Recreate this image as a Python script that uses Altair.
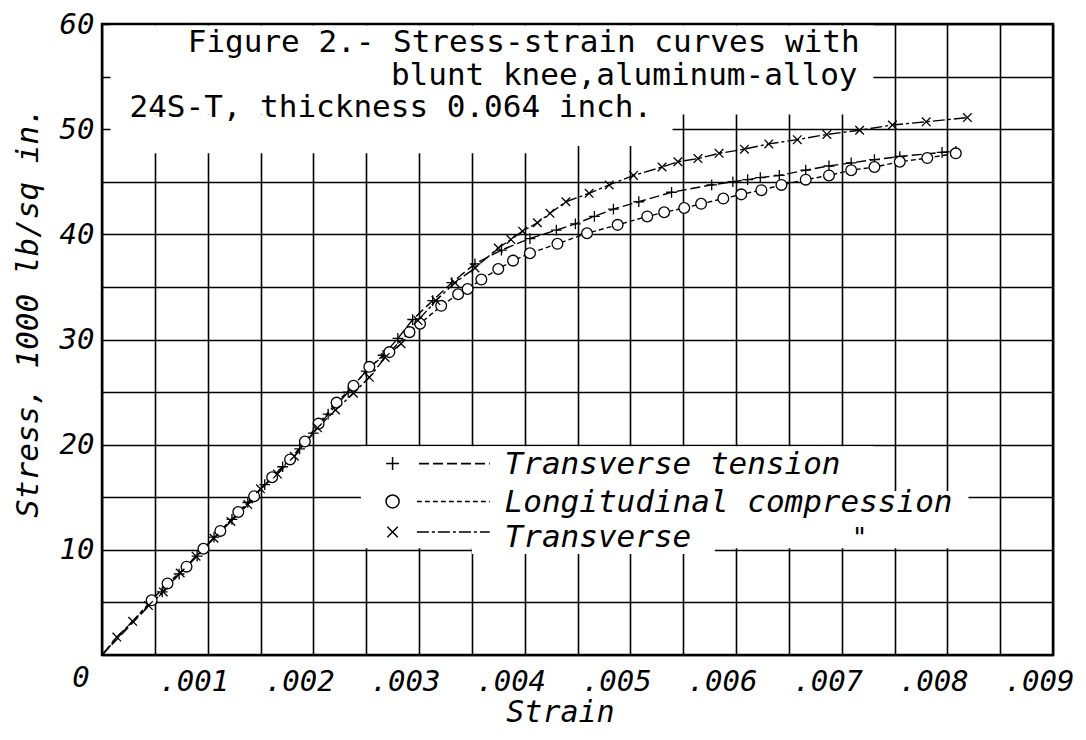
import altair as alt
import pandas as pd

# ---------------- data ----------------
SERIES = ["Transverse tension", "Longitudinal compression", "Transverse compression"]

# Transverse tension (+)
tt_strain = [0.00057, 0.00073, 0.00090, 0.00106, 0.00123, 0.00138, 0.00154, 0.00171, 0.00187, 0.00200,
             0.00214, 0.00233, 0.00250, 0.00266, 0.00280, 0.00294, 0.00313, 0.00331, 0.00353, 0.00378,
             0.00405, 0.00430, 0.00448, 0.00466, 0.00484, 0.00508, 0.00539, 0.00577, 0.00597, 0.00611,
             0.00623, 0.00641, 0.00666, 0.00688, 0.00709, 0.00731, 0.00755, 0.00795, 0.00808]
tt_stress = [6.0, 7.7, 9.4, 11.2, 12.9, 14.5, 16.2, 17.9, 19.6, 21.1,
             22.9, 25.0, 27.0, 28.5, 30.1, 31.9, 33.7, 35.4, 37.2, 38.5,
             39.6, 40.4, 41.0, 41.7, 42.4, 43.1, 44.0, 44.7, 45.0, 45.2,
             45.4, 45.6, 46.1, 46.5, 46.8, 47.1, 47.4, 47.8, 47.9]

# Longitudinal compression (o)
lc_strain = [0.00047, 0.00062, 0.00080, 0.00096, 0.00112, 0.00129, 0.00144, 0.00161, 0.00178, 0.00192,
             0.00205, 0.00222, 0.00238, 0.00253, 0.00272, 0.00291, 0.00301, 0.00321, 0.00337, 0.00346,
             0.00359, 0.00375, 0.00389, 0.00405, 0.00431, 0.00459, 0.00488, 0.00516, 0.00532, 0.00551,
             0.00567, 0.00588, 0.00605, 0.00624, 0.00643, 0.00666, 0.00688, 0.00709, 0.00731, 0.00755,
             0.00781, 0.00808]
lc_stress = [5.2, 6.8, 8.4, 10.1, 11.8, 13.6, 15.1, 16.9, 18.6, 20.3,
             22.0, 24.0, 25.6, 27.4, 28.8, 30.7, 31.5, 33.2, 34.3, 34.8,
             35.7, 36.7, 37.5, 38.2, 39.1, 40.1, 40.9, 41.7, 42.1, 42.5,
             42.9, 43.4, 43.8, 44.2, 44.7, 45.2, 45.6, 46.1, 46.4, 46.9,
             47.25, 47.7]

# Transverse compression (x)
tc_strain = [0.00014, 0.00029, 0.00044, 0.00058, 0.00074, 0.00089, 0.00106, 0.00122, 0.00138, 0.00150,
             0.00166, 0.00182, 0.00204, 0.00221, 0.00238, 0.00253, 0.00268, 0.00283, 0.00299, 0.00316,
             0.00334, 0.00353, 0.00375, 0.00387, 0.00398, 0.00412, 0.00424, 0.00439, 0.00461, 0.00480,
             0.00503, 0.00530, 0.00545, 0.00564, 0.00584, 0.00608, 0.00631, 0.00658, 0.00686, 0.00717,
             0.00748, 0.00780, 0.00819]
tc_stress = [1.7, 3.2, 4.7, 6.0, 7.8, 9.4, 11.1, 12.7, 14.3, 15.8,
             17.2, 18.9, 21.6, 23.3, 24.9, 26.4, 28.3, 29.6, 31.8, 33.7,
             35.4, 36.8, 38.7, 39.5, 40.3, 41.1, 42.0, 43.1, 43.9, 44.7,
             45.6, 46.4, 46.9, 47.2, 47.7, 48.1, 48.6, 49.0, 49.5, 49.9,
             50.4, 50.7, 51.1]

x_ticks = [round(i * 0.0005, 4) for i in range(19)]   # grid every .0005, labels every .001
y_ticks = list(range(0, 61, 5))                        # grid every 5, labels every 10

caption_lines = ["Figure 2.- Stress-strain curves with",
                 "blunt knee,aluminum-alloy",
                 "24S-T, thickness 0.064 inch."]
legend_labels = ["Transverse tension", "Longitudinal compression", "Transverse"]

# ---------------- styles / layout ----------------
FONT = "DejaVu Sans Mono"
PLUS = "M-1,0L1,0M0,-1L0,1"
CROSS = "M-0.8,-0.8L0.8,0.8M-0.8,0.8L0.8,-0.8"
shape_scale = alt.Scale(domain=SERIES, range=[PLUS, "circle", CROSS])
dash_scale = alt.Scale(domain=SERIES, range=[[10, 4], [5, 3], [12, 3, 3, 3]])

rows = []
for name, xs, ys in [(SERIES[0], tt_strain, tt_stress),
                     (SERIES[1], lc_strain, lc_stress),
                     (SERIES[2], tc_strain, tc_stress)]:
    for a, b in zip(xs, ys):
        rows.append({"series": name, "strain": a, "stress": b, "pt": 1})
    rows.append({"series": name, "strain": 0.0, "stress": 0.0, "pt": 0})
df = pd.DataFrame(rows)

xsc = alt.Scale(domain=[0, 0.009], nice=False, zero=False)
ysc = alt.Scale(domain=[0, 60], nice=False, zero=False)

x_axis = alt.Axis(
    values=x_ticks,
    labelExpr="datum.value == 0 ? '' : (round(datum.value*2000) % 2 == 0 ? replace(format(datum.value, '.3f'), '0.', '.') : '')",
    grid=True, ticks=False, domain=False,
    labelFont=FONT, labelFontSize=29, labelFontStyle="italic",
    labelColor="black", labelPadding=12, labelOffset=-14, labelFlush=False, labelOverlap=False,
    title="Strain", titleFont=FONT, titleFontSize=30, titleFontStyle="italic",
    titleFontWeight="normal", titleColor="black", titleX=458, titleY=57, titleBaseline="middle",
    titleAlign="center",
    gridColor="black", gridWidth=1.6, gridOpacity=1,
)
y_axis = alt.Axis(
    values=y_ticks,
    labelExpr="datum.value == 0 ? '' : (datum.value % 10 == 0 ? datum.label : '')",
    grid=True, ticks=False, domain=False,
    labelFont=FONT, labelFontSize=29, labelFontStyle="italic",
    labelColor="black", labelPadding=8, labelFlush=False, labelOverlap=False,
    title="Stress, 1000 lb/sq in.", titleFont=FONT, titleFontSize=31, titleFontStyle="italic",
    titleFontWeight="normal", titleColor="black", titleAngle=270, titleX=-74, titleY=288,
    titleAlign="center", titleBaseline="middle",
    gridColor="black", gridWidth=1.6, gridOpacity=1,
)

X = lambda f="strain": alt.X(f, type="quantitative", scale=xsc, axis=x_axis)
Y = lambda f="stress": alt.Y(f, type="quantitative", scale=ysc, axis=y_axis)

# white areas that interrupt the grid (caption block and legend block)
masks = pd.DataFrame({
    "x0": [0.00008, 0.00008, 0.00008, 0.00245, 0.0073, 0.0035],
    "x1": [0.0073, 0.0054, 0.0043, 0.0073, 0.0082, 0.0058],
    "y0": [51.4, 48.4, 47.7, 10.15, 10.15, 9.6],
    "y1": [59.85, 51.4, 48.4, 19.85, 15.6, 10.4],
})
mask_layer = alt.Chart(masks).mark_rect(color="white", strokeWidth=0).encode(
    x=alt.X("x0:Q", scale=xsc, axis=x_axis), x2="x1:Q",
    y=alt.Y("y0:Q", scale=ysc, axis=y_axis), y2="y1:Q")

lines = alt.Chart(df).mark_line(color="black", strokeWidth=1.4).encode(
    x=X(), y=Y(),
    strokeDash=alt.StrokeDash("series:N", scale=dash_scale, legend=None),
    detail="series:N", order="strain:Q")

points = alt.Chart(df).transform_filter("datum.pt == 1").mark_point(
    filled=True, fill="white", stroke="black", strokeWidth=1.3, size=115, opacity=1).encode(
    x=X(), y=Y(),
    shape=alt.Shape("series:N", scale=shape_scale, legend=None))

cap = pd.DataFrame({"t": caption_lines,
                    "x": [0.00717, 0.00715, 0.00026],
                    "y": [57.35, 54.2, 51.2],
                    "al": ["right", "right", "left"]})
cap_r = alt.Chart(cap[cap.al == "right"]).mark_text(
    font=FONT, fontSize=31, align="right", baseline="alphabetic",
    color="black").encode(x=X("x"), y=Y("y"), text="t:N")
cap_l = alt.Chart(cap[cap.al == "left"]).mark_text(
    font=FONT, fontSize=31, align="left", baseline="alphabetic",
    color="black").encode(x=X("x"), y=Y("y"), text="t:N")

# legend
leg_sym = pd.DataFrame({"series": SERIES, "x": [0.00275] * 3, "y": [18.2, 14.6, 11.7]})
leg_sym_layer = alt.Chart(leg_sym).mark_point(
    filled=True, fill="white", stroke="black", strokeWidth=1.5, size=170, opacity=1).encode(
    x=X("x"), y=Y("y"), shape=alt.Shape("series:N", scale=shape_scale, legend=None))

leg_line = pd.DataFrame({"series": SERIES, "x0": [0.00300, 0.00298, 0.00298],
                         "x1": [0.00367] * 3, "y": [18.2, 14.6, 11.7]})
leg_dash = alt.Scale(domain=SERIES, range=[[30, 8], [7, 4], [8, 4, 22, 4]])
leg_line_layer = alt.Chart(leg_line).mark_rule(color="black", strokeWidth=1.6).encode(
    x=X("x0"), x2="x1:Q", y=Y("y"),
    strokeDash=alt.StrokeDash("series:N", scale=leg_dash, legend=None))

leg_txt = pd.DataFrame({"t": legend_labels, "x": [0.00381] * 3,
                        "y": [17.25, 13.55, 10.24]})
leg_txt_layer = alt.Chart(leg_txt).mark_text(
    font=FONT, fontSize=31, fontStyle="italic", align="left",
    baseline="alphabetic", color="black").encode(x=X("x"), y=Y("y"), text="t:N")

ditto = pd.DataFrame({"t": ["\""], "x": [0.00717], "y": [10.24]})
ditto_layer = alt.Chart(ditto).mark_text(
    font=FONT, fontSize=26, fontStyle="italic", align="center",
    baseline="alphabetic", color="black").encode(x=X("x"), y=Y("y"), text="t:N")

origin = pd.DataFrame({"t": ["0"], "x": [-0.0002], "y": [-2.2]})
origin_layer = alt.Chart(origin).mark_text(
    font=FONT, fontSize=29, fontStyle="italic", align="center",
    baseline="middle", color="black").encode(x=X("x"), y=Y("y"), text="t:N")

chart = alt.layer(
    mask_layer, lines, points, cap_r, cap_l,
    leg_line_layer, leg_sym_layer, leg_txt_layer, ditto_layer, origin_layer
).properties(
    width=951, height=631,
    autosize=alt.AutoSizeParams(type="none"),
    padding={"left": 94, "top": 16, "right": 25, "bottom": 77},
    background="white",
).configure_view(stroke="black", strokeWidth=2.5, fill="white")

chart.save("out.html", embed_options={"renderer": "svg", "actions": False})
